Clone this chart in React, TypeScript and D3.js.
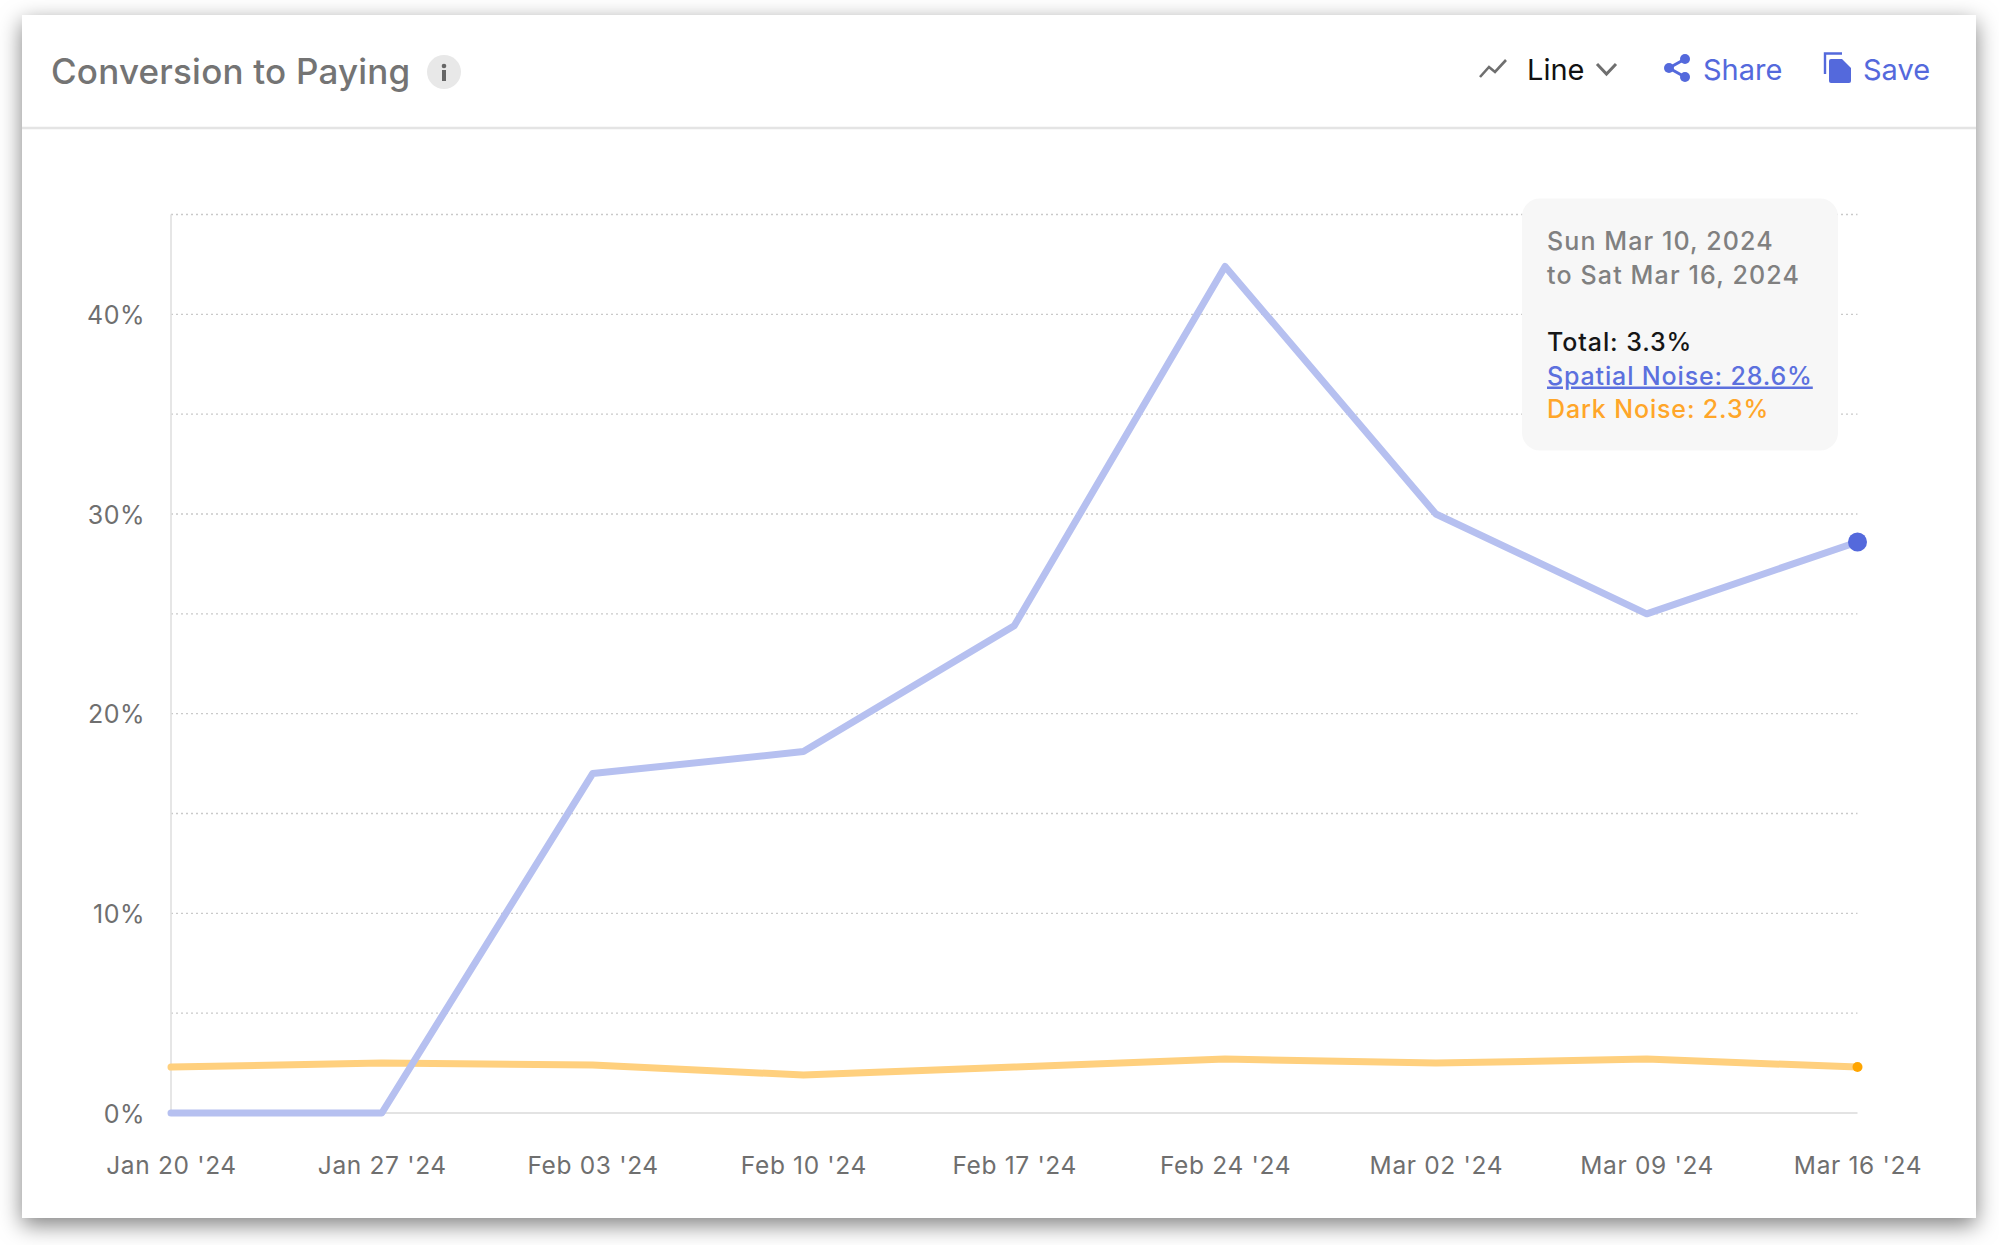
import { useEffect, useRef } from "react";
import * as d3 from "d3";

const weeks = [
  "Jan 20 '24",
  "Jan 27 '24",
  "Feb 03 '24",
  "Feb 10 '24",
  "Feb 17 '24",
  "Feb 24 '24",
  "Mar 02 '24",
  "Mar 09 '24",
  "Mar 16 '24",
];
const spatialNoise = [0, 0, 17.0, 18.1, 24.4, 42.4, 30.0, 25.0, 28.6];
const darkNoise = [2.3, 2.5, 2.4, 1.9, 2.3, 2.7, 2.5, 2.7, 2.3];
const yTicks = [0, 5, 10, 15, 20, 25, 30, 35, 40, 45];
const yLabelled = [0, 10, 20, 30, 40];

const tooltipDates = ["Sun Mar 10, 2024", "to Sat Mar 16, 2024"];
const tooltipTotal = "Total: 3.3%";
const tooltipSpatial = "Spatial Noise: 28.6%";
const tooltipDark = "Dark Noise: 2.3%";

const FONT = "Inter, 'Noto Sans', sans-serif";
const BLUE = "#5469dc";
const ORANGE = "#ffa629";

const App = () => {
  const svgRef = useRef(null);

  useEffect(() => {
    if (!svgRef.current) return;
    const svg = d3.select(svgRef.current);
    svg.selectAll("*").remove();

    // card shadow
    const defs = svg.append("defs");
    const filter = defs
      .append("filter")
      .attr("id", "cardShadow")
      .attr("x", "-5%")
      .attr("y", "-5%")
      .attr("width", "110%")
      .attr("height", "110%");
    filter
      .append("feDropShadow")
      .attr("dx", 0)
      .attr("dy", 7)
      .attr("stdDeviation", 11)
      .attr("flood-color", "#000")
      .attr("flood-opacity", 0.5);

    svg
      .append("rect")
      .attr("x", 22)
      .attr("y", 15)
      .attr("width", 1954)
      .attr("height", 1203)
      .attr("fill", "#fff")
      .attr("filter", "url(#cardShadow)");

    // header
    svg
      .append("line")
      .attr("x1", 22)
      .attr("x2", 1976)
      .attr("y1", 128)
      .attr("y2", 128)
      .attr("stroke", "#e4e4e4")
      .attr("stroke-width", 2.4);

    svg
      .append("text")
      .attr("x", 51)
      .attr("y", 83.5)
      .attr("font-family", FONT)
      .attr("font-size", 35)
      .attr("font-weight", 500)
      .attr("letter-spacing", 0.2)
      .attr("fill", "#747474")
      .text("Conversion to Paying");

    svg
      .append("circle")
      .attr("cx", 444)
      .attr("cy", 72)
      .attr("r", 17)
      .attr("fill", "#e8e8e8");
    svg.append("circle").attr("cx", 444).attr("cy", 66).attr("r", 2.3).attr("fill", "#666");
    svg
      .append("rect")
      .attr("x", 442)
      .attr("y", 70)
      .attr("width", 4)
      .attr("height", 11)
      .attr("fill", "#666");

    // chart type picker
    svg
      .append("path")
      .attr("d", "M1480 77 L1489 67 L1495 72 L1506 60")
      .attr("fill", "none")
      .attr("stroke", "#6f6f6f")
      .attr("stroke-width", 2.6);
    svg
      .append("text")
      .attr("x", 1527)
      .attr("y", 80)
      .attr("font-family", FONT)
      .attr("font-size", 29)
      .attr("fill", "#111")
      .text("Line");
    svg
      .append("path")
      .attr("d", "M1597 64 L1606.5 74 L1616 64")
      .attr("fill", "none")
      .attr("stroke", "#6f6f6f")
      .attr("stroke-width", 3);

    // share
    svg
      .append("path")
      .attr("d", "M1685 59 L1669 68 L1685 77")
      .attr("fill", "none")
      .attr("stroke", BLUE)
      .attr("stroke-width", 3);
    [
      [1685, 59, 5],
      [1669, 68, 5],
      [1685, 77, 5],
    ].forEach(([cx, cy, r]) => {
      svg.append("circle").attr("cx", cx).attr("cy", cy).attr("r", r).attr("fill", BLUE);
    });
    svg
      .append("text")
      .attr("x", 1703)
      .attr("y", 80)
      .attr("font-family", FONT)
      .attr("font-size", 29)
      .attr("fill", BLUE)
      .text("Share");

    // save
    svg
      .append("path")
      .attr("d", "M1825 74 L1825 53.5 L1842 53.5")
      .attr("fill", "none")
      .attr("stroke", BLUE)
      .attr("stroke-width", 2.4);
    svg
      .append("path")
      .attr(
        "d",
        "M1831 59 L1842 59 L1851 68 L1851 81 Q1851 83 1849 83 L1831 83 Q1829 83 1829 81 L1829 61 Q1829 59 1831 59 Z",
      )
      .attr("fill", BLUE);
    svg
      .append("text")
      .attr("x", 1863)
      .attr("y", 80)
      .attr("font-family", FONT)
      .attr("font-size", 29)
      .attr("fill", BLUE)
      .text("Save");

    // scales
    const x = d3.scalePoint().domain(weeks).range([171, 1857.5]);
    const y = d3.scaleLinear().domain([0, 45]).range([1113, 214.5]);

    // y axis with dotted grid
    const yAxis = d3
      .axisLeft(y)
      .tickValues(yTicks)
      .tickSize(-(1857.5 - 171))
      .tickPadding(26)
      .tickFormat((d: any) => (yLabelled.includes(d) ? `${d}%` : ""));
    const yG = svg.append("g").attr("transform", "translate(171,-0.5)").call(yAxis);
    yG.select(".domain").remove();
    yG
      .selectAll(".tick line")
      .attr("stroke", (d: any) => (d === 0 ? "#e3e3e3" : "#c9c9c9"))
      .attr("stroke-width", (d: any) => (d === 0 ? 2 : 1.4))
      .attr("stroke-dasharray", (d: any) => (d === 0 ? null : "2 3"));
    yG
      .selectAll(".tick text")
      .attr("font-family", FONT)
      .attr("font-size", 25)
      .attr("letter-spacing", 0.5)
      .attr("fill", "#6f6f6f")
      .attr("dy", 9.5);

    // y axis rule
    svg
      .append("line")
      .attr("x1", 171)
      .attr("x2", 171)
      .attr("y1", y(45))
      .attr("y2", y(0))
      .attr("stroke", "#e0e0e0")
      .attr("stroke-width", 1.6);

    // x axis
    const xAxis = d3.axisBottom(x).tickSize(0).tickPadding(0);
    const xG = svg.append("g").attr("transform", "translate(0,1112)").call(xAxis);
    xG.select(".domain").remove();
    xG
      .selectAll(".tick text")
      .attr("font-family", FONT)
      .attr("font-size", 24.5)
      .attr("letter-spacing", 0.65)
      .attr("fill", "#6f6f6f")
      .attr("y", 61.5)
      .attr("dy", 0);

    const line = d3
      .line<number>()
      .x((_, i) => x(weeks[i]) as number)
      .y((d) => y(d));

    svg
      .append("path")
      .datum(darkNoise)
      .attr("fill", "none")
      .attr("stroke", "#ffd07e")
      .attr("stroke-width", 7)
      .attr("stroke-linejoin", "round")
      .attr("stroke-linecap", "round")
      .attr("d", line);

    svg
      .append("path")
      .datum(spatialNoise)
      .attr("fill", "none")
      .attr("stroke", "#b6c0f0")
      .attr("stroke-width", 7)
      .attr("stroke-linejoin", "round")
      .attr("stroke-linecap", "round")
      .attr("d", line);

    const last = weeks.length - 1;
    svg
      .append("circle")
      .attr("cx", x(weeks[last]) as number)
      .attr("cy", y(spatialNoise[last]))
      .attr("r", 9.5)
      .attr("fill", BLUE);
    svg
      .append("circle")
      .attr("cx", x(weeks[last]) as number)
      .attr("cy", y(darkNoise[last]))
      .attr("r", 5)
      .attr("fill", "#ffa500");

    // tooltip
    const tip = svg.append("g");
    tip
      .append("rect")
      .attr("x", 1522)
      .attr("y", 198.5)
      .attr("width", 316)
      .attr("height", 252)
      .attr("rx", 18)
      .attr("fill", "#f7f7f7");
    const tipLine = (label: string, yPos: number, fill: string, spacing = 0.9) =>
      tip
        .append("text")
        .attr("x", 1547)
        .attr("y", yPos)
        .attr("font-family", FONT)
        .attr("font-size", 25)
        .attr("letter-spacing", spacing)
        .attr("font-weight", 500)
        .attr("fill", fill)
        .text(label);
    tipLine(tooltipDates[0], 250, "#808080", 1.1);
    tipLine(tooltipDates[1], 283.5, "#808080", 1.15);
    tipLine(tooltipTotal, 350.5, "#161616");
    tipLine(tooltipSpatial, 384.5, "#5c70de", 0.85).attr("text-decoration", "underline");
    tipLine(tooltipDark, 417.5, ORANGE, 0.85);
  }, []);

  return (
    <svg
      ref={svgRef}
      width={1999}
      height={1245}
      style={{ position: "absolute", left: 0, top: 0, display: "block" }}
    />
  );
};

export default App;
